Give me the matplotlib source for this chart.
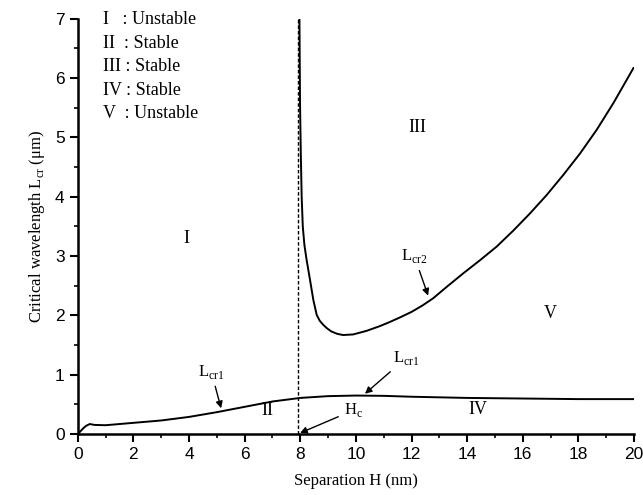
import numpy as np
import matplotlib
matplotlib.use("Agg")
import matplotlib.pyplot as plt
from matplotlib.ticker import MultipleLocator

# ---- data ------------------------------------------------------------------
h_cr1 = [0, 0.1, 0.2, 0.3, 0.43, 0.6, 1, 2, 3, 4, 5, 6, 7, 8, 9, 10, 11, 12,
         14, 16, 18, 20]
l_cr1 = [0, 0.05, 0.1, 0.14, 0.17, 0.155, 0.15, 0.19, 0.23, 0.29, 0.37, 0.46,
         0.55, 0.61, 0.64, 0.65, 0.645, 0.63, 0.61, 0.60, 0.59, 0.59]

h_cr2 = [7.97, 7.99, 8.02, 8.05, 8.09, 8.15, 8.23, 8.35, 8.47, 8.59, 8.70,
         8.83, 8.97, 9.12, 9.33, 9.54, 9.90, 10.38, 10.86, 11.22, 11.6, 12.0,
         12.4, 12.78, 13.26, 13.86, 14.46, 15.06, 15.66, 16.26, 16.86,
         17.46, 18.06, 18.66, 19.26, 19.98]
l_cr2 = [7.0, 5.6, 4.7, 4.0, 3.5, 3.18, 2.93, 2.60, 2.26, 2.01, 1.91,
         1.84, 1.78, 1.73, 1.69, 1.67, 1.68, 1.74, 1.82, 1.89, 1.97, 2.06,
         2.17, 2.29, 2.48, 2.71, 2.93, 3.16, 3.43, 3.72, 4.03,
         4.37, 4.73, 5.13, 5.58, 6.17]

h_c = 7.9

legend_lines = ["I   : Unstable", "II  : Stable", "III : Stable",
                "IV : Stable", "V  : Unstable"]
regions = ["I", "II", "III", "IV", "V"]
region_pos = [(3.9, 3.3), (6.83, 0.4), (12.2, 5.16), (14.4, 0.42), (17.0, 2.04)]

SERIF = "Liberation Serif"
SANS = "Liberation Sans"
plt.rcParams["mathtext.fontset"] = "custom"
plt.rcParams["mathtext.rm"] = SERIF

fig = plt.figure(figsize=(6.43, 4.95), dpi=100)
ax = fig.add_axes([0.121, 0.123, 0.865, 0.839])

ax.plot(h_cr1, l_cr1, color="black", lw=1.4)
ax.plot(h_cr2, l_cr2, color="black", lw=1.4)
ax.plot([h_c, h_c], [0, 7], color="black", lw=1.0, ls=(0, (2.5, 1.5)))

ax.set_xlim(0, 20)
ax.set_ylim(0, 7)
ax.xaxis.set_major_locator(MultipleLocator(2))
ax.xaxis.set_minor_locator(MultipleLocator(1))
ax.yaxis.set_major_locator(MultipleLocator(1))
ax.yaxis.set_minor_locator(MultipleLocator(0.5))
ax.tick_params(which="major", direction="out", length=6, width=1.5,
               labelsize=12.5)
ax.tick_params(which="minor", direction="out", length=3, width=1.2)
for lab in ax.get_xticklabels() + ax.get_yticklabels():
    lab.set_fontfamily(SANS)

for s in ("top", "right"):
    ax.spines[s].set_visible(False)
for s in ("left", "bottom"):
    ax.spines[s].set_linewidth(1.8)

ax.set_xlabel("Separation H (nm)", fontfamily=SERIF, fontsize=12, labelpad=8)
ax.set_ylabel(r"Critical wavelength L$_{\mathregular{cr}}$ ($\mathregular{\mu}$m)",
              fontfamily=SERIF, fontsize=12, labelpad=6)

# legend-like text block
for i, t in enumerate(legend_lines):
    ax.text(0.9, 6.98 - i * 0.395, t, fontfamily=SERIF, fontsize=13,
            va="center", ha="left")

for r, (x, y) in zip(regions, region_pos):
    ax.text(x, y, r, fontfamily=SERIF, fontsize=13, ha="center", va="center")

arrow = dict(arrowstyle="-|>", color="black", lw=1.0, mutation_scale=10)
ax.annotate(r"L$_{\mathregular{cr1}}$", xy=(5.18, 0.39), xytext=(4.8, 1.05),
            fontfamily=SERIF, fontsize=12, ha="center", va="center",
            arrowprops=arrow)
ax.annotate(r"L$_{\mathregular{cr1}}$", xy=(10.25, 0.65), xytext=(11.8, 1.28),
            fontfamily=SERIF, fontsize=12, ha="center", va="center",
            arrowprops=arrow)
ax.annotate(r"L$_{\mathregular{cr2}}$", xy=(12.63, 2.29), xytext=(12.1, 3.0),
            fontfamily=SERIF, fontsize=12, ha="center", va="center",
            arrowprops=arrow)
ax.annotate(r"H$_{\mathregular{c}}$", xy=(h_c, 0.0), xytext=(9.9, 0.4),
            fontfamily=SERIF, fontsize=12, ha="center", va="center",
            arrowprops=arrow)

fig.savefig("out.png", dpi=100)
